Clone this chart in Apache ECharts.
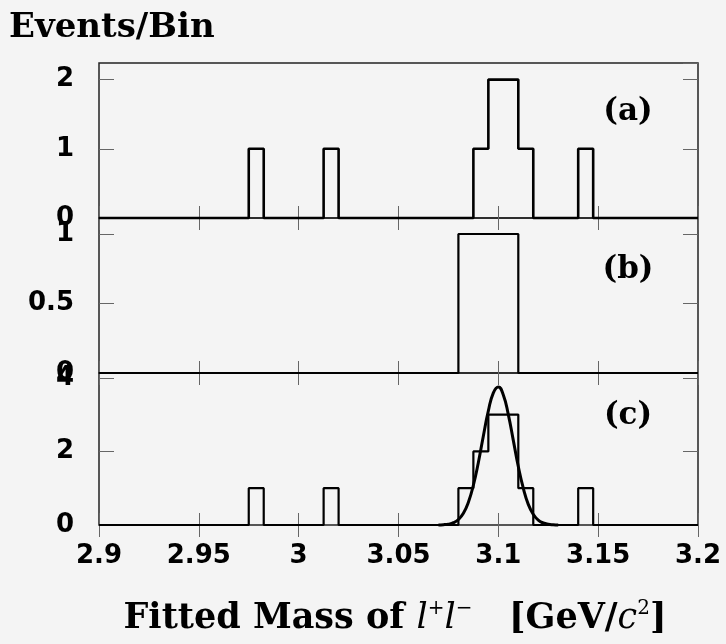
<!DOCTYPE html>
<html>
<head>
<meta charset="utf-8">
<script src="https://cdn.jsdelivr.net/npm/echarts@6/dist/echarts.min.js"></script>
<style>
html,body{margin:0;padding:0;background:#f4f4f4;}
#chart{width:726px;height:644px;}
</style>
</head>
<body>
<div id="chart"></div>
<script>
// ---- Data ----
const xMin = 2.9, xMax = 3.2, binWidth = 0.0075;           // 40 bins
const xTickStep = 0.05;
// Events per bin, panel (a)
const countsA = [0,0,0,0,0,0,0,0,0,0, 1,0,0,0,0,1,0,0,0,0, 0,0,0,0,0,1,2,2,1,0, 0,0,1,0,0,0,0,0,0,0];
// Events per bin, panel (b)
const countsB = [0,0,0,0,0,0,0,0,0,0, 0,0,0,0,0,0,0,0,0,0, 0,0,0,0,1,1,1,1,0,0, 0,0,0,0,0,0,0,0,0,0];
// Events per bin, panel (c)
const countsC = [0,0,0,0,0,0,0,0,0,0, 1,0,0,0,0,1,0,0,0,0, 0,0,0,0,1,2,3,3,1,0, 0,0,1,0,0,0,0,0,0,0];
// Fitted curve in panel (c)
const fitX = [3.0700,3.0725,3.0750,3.0775,3.0800,3.0825,3.0850,3.0875,3.0900,3.0925,3.0950,3.0975,3.1000,
              3.1025,3.1050,3.1075,3.1100,3.1125,3.1150,3.1175,3.1200,3.1225,3.1250,3.1275,3.1300];
const fitY = [0.003,0.008,0.024,0.063,0.15,0.32,0.62,1.08,1.70,2.42,3.10,3.59,3.75,
              3.53,3.00,2.30,1.59,1.00,0.56,0.29,0.13,0.055,0.02,0.007,0.002];
// y-axis settings per panel
const yMax = [2.24, 1.115, 4.13];
const yStep = [1, 0.5, 2];
const panelLabels = ['(a)', '(b)', '(c)'];

// ---- Build ----
function stepData(counts) {
  const d = counts.map((c, k) => [xMin + k * binWidth, c]);
  d.push([xMax, counts[counts.length - 1]]);
  return d;
}
const fitData = fitX.map((x, i) => [x, fitY[i]]);

const grids = [
  {left: 99, right: 28, top: 63, height: 155},
  {left: 99, right: 28, top: 218, height: 155},
  {left: 99, right: 28, top: 373, height: 152}
].map(g => Object.assign(g, {show: true, borderColor: '#222', borderWidth: 1.5, backgroundColor: 'transparent'}));

const tickFont = {fontFamily: 'DejaVu Sans', fontWeight: 'bold', fontSize: 26, color: '#000'};
const xAxes = [], yAxes = [];
for (let i = 0; i < 3; i++) {
  ['bottom', 'top'].forEach(pos => {
    xAxes.push({
      type: 'value', gridIndex: i, position: pos, min: xMin, max: xMax, interval: xTickStep,
      axisLine: {show: false}, splitLine: {show: false},
      axisTick: {show: true, inside: true, length: 12, lineStyle: {color: '#666', width: 1}},
      axisLabel: Object.assign({show: (i === 2 && pos === 'bottom'), margin: 18}, tickFont)
    });
  });
  ['left', 'right'].forEach(pos => {
    yAxes.push({
      type: 'value', gridIndex: i, position: pos, min: 0, max: yMax[i], interval: yStep[i],
      axisLine: {show: false}, splitLine: {show: false},
      axisTick: {show: true, inside: true, length: 15, lineStyle: {color: '#666', width: 1}},
      axisLabel: Object.assign({show: pos === 'left', margin: 25, showMaxLabel: false}, tickFont)
    });
  });
}

const series = [
  {type: 'line', xAxisIndex: 0, yAxisIndex: 0, data: stepData(countsA), step: 'end', symbol: 'none', clip: false,
   lineStyle: {color: '#000', width: 2.6}, animation: false},
  {type: 'line', xAxisIndex: 2, yAxisIndex: 2, data: stepData(countsB), step: 'end', symbol: 'none', clip: false,
   lineStyle: {color: '#000', width: 2.2}, animation: false},
  {type: 'line', xAxisIndex: 4, yAxisIndex: 4, data: stepData(countsC), step: 'end', symbol: 'none', clip: false,
   lineStyle: {color: '#000', width: 2.2}, animation: false},
  {type: 'line', xAxisIndex: 4, yAxisIndex: 4, data: fitData, smooth: true, symbol: 'none', clip: false,
   lineStyle: {color: '#000', width: 3}, animation: false}
];

const serif = 'DejaVu Serif';
const graphic = [
  {type: 'text', left: 9, top: 11, style: {text: 'Events/Bin', font: 'bold 34px "' + serif + '"', fill: '#000'}},
  ...panelLabels.map((t, i) => ({
    type: 'text', x: 628, y: [112, 270, 416][i],
    style: {text: t, font: 'bold 31px "' + serif + '"', fill: '#000', align: 'center', verticalAlign: 'middle'}
  })),
  {type: 'text', x: 395, y: 619, style: {
    text: '{b|Fitted Mass of }{i|l}{s|+}{i|l}{s|−}{b|   [GeV/}{i|c}{s|2}{b|]}',
    align: 'center', verticalAlign: 'middle', fill: '#000',
    rich: {
      b: {fontFamily: serif, fontWeight: 'bold', fontSize: 35, fill: '#000', lineHeight: 40},
      i: {fontFamily: serif, fontStyle: 'italic', fontSize: 35, fill: '#000', lineHeight: 40},
      s: {fontFamily: serif, fontSize: 20, fill: '#000', verticalAlign: 'top', lineHeight: 40}
    }
  }}
];

const chart = echarts.init(document.getElementById('chart'), null, {renderer: 'canvas'});
chart.setOption({
  backgroundColor: '#f4f4f4',
  animation: false,
  grid: grids,
  xAxis: xAxes,
  yAxis: yAxes,
  series: series,
  graphic: graphic
});
</script>
</body>
</html>
